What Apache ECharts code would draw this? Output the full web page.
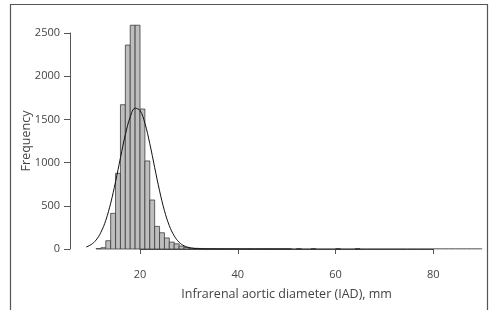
<!DOCTYPE html>
<html>
<head>
<meta charset="utf-8">
<script src="https://cdn.jsdelivr.net/npm/echarts@6/dist/echarts.min.js"></script>
<style>
  html, body { margin: 0; padding: 0; background: #fff; }
  #main { width: 498px; height: 310px; }
</style>
</head>
<body>
<div id="main"></div>
<script>
// histogram: left edge of each 1 mm bin and its count
const binStart = [11, 12, 13, 14, 15, 16, 17, 18, 19, 20, 21, 22, 23, 24, 25, 26, 27, 28, 29, 30,
                  31, 32, 33, 34, 35, 36, 37, 38, 39, 40, 41, 42, 43, 44, 45, 46, 47, 48, 49, 50,
                  52, 55, 60, 64];
const binCount = [5, 15, 96, 413, 876, 1670, 2360, 2590, 2590, 1620, 1019, 567, 262, 188, 128, 80, 60, 34, 18, 10,
                  8, 6, 5, 5, 4, 3, 3, 2, 2, 2, 1, 2, 1, 1, 2, 1, 1, 1, 1, 1,
                  1, 1, 1, 1];
// fitted normal curve
const curveX = [9, 10, 11, 12, 13, 14, 15, 16, 17, 18, 19, 20, 21, 22, 23, 24, 25, 26, 27, 28, 29, 30, 31, 32, 33, 34, 35, 90];
const curveY = [23, 51, 103, 193, 332, 530, 779, 1056, 1322, 1528, 1629, 1603, 1456, 1220, 944, 674, 444, 270, 152, 78, 37, 17, 7, 3, 1, 0, 0, 0];
// axis ticks
const xTickMin = 20, xTickMax = 80, xTickStep = 20;
const yTickMin = 0, yTickMax = 2500, yTickStep = 500;

const FONT = '"Open Sans", "Noto Sans", sans-serif';
const AX = '#555';
const TXT = '#444';

const chart = echarts.init(document.getElementById('main'), null, { renderer: 'canvas' });

const pxPerMm = 4.888;
const pxPerUnit = 0.0864;
const x20 = 140, y0 = 249;

const option = {
  backgroundColor: '#fff',
  animation: false,
  graphic: [{
    type: 'rect',
    shape: { x: 10.5, y: 4.5, width: 477, height: 400 },
    style: { fill: 'none', stroke: '#555', lineWidth: 1.2 },
    silent: true
  }],
  grid: [
    { // data grid
      left: x20 - 12 * pxPerMm,
      right: 498 - (x20 + 72 * pxPerMm),
      top: y0 - 2700 * pxPerUnit,
      bottom: 310 - y0
    },
    { // axis grid (R style, ticks only over the labelled range)
      left: x20,
      right: 498 - (x20 + 60 * pxPerMm),
      top: y0 - 2500 * pxPerUnit,
      bottom: 310 - y0
    }
  ],
  xAxis: [
    { type: 'value', gridIndex: 0, min: 8, max: 92, show: false },
    {
      type: 'value', gridIndex: 1, min: xTickMin, max: xTickMax, interval: xTickStep,
      offset: 10,
      name: 'Infrarenal aortic diameter (IAD), mm',
      nameLocation: 'middle', nameGap: 29, nameMoveOverlap: false,
      nameTextStyle: { color: TXT, fontFamily: FONT, fontSize: 12.5 },
      axisLine: { show: true, lineStyle: { color: AX, width: 1 } },
      axisTick: { show: true, length: 5, lineStyle: { color: AX } },
      axisLabel: { color: TXT, fontFamily: FONT, fontSize: 11, margin: 10, formatter: v => String(v) },
      splitLine: { show: false }
    }
  ],
  yAxis: [
    { type: 'value', gridIndex: 0, min: 0, max: 2700, show: false },
    {
      type: 'value', gridIndex: 1, min: yTickMin, max: yTickMax, interval: yTickStep,
      offset: x20 - 70,
      name: 'Frequency',
      nameLocation: 'middle', nameGap: 37, nameMoveOverlap: false,
      nameTextStyle: { color: TXT, fontFamily: FONT, fontSize: 12.5 },
      axisLine: { show: true, lineStyle: { color: AX, width: 1 } },
      axisTick: { show: true, length: 6, lineStyle: { color: AX } },
      axisLabel: { color: TXT, fontFamily: FONT, fontSize: 11, margin: 10, formatter: v => String(v) },
      splitLine: { show: false }
    }
  ],
  series: [
    {
      type: 'custom',
      xAxisIndex: 0, yAxisIndex: 0,
      data: binStart.map((b, i) => [b, binCount[i]]),
      encode: { x: 0, y: 1 },
      renderItem: function (params, api) {
        const p0 = api.coord([api.value(0), 0]);
        const p1 = api.coord([api.value(0) + 1, api.value(1)]);
        return {
          type: 'rect',
          shape: { x: p0[0], y: p1[1], width: p1[0] - p0[0], height: p0[1] - p1[1] },
          style: { fill: '#bebebe', stroke: '#3c3c3c', lineWidth: 0.8 }
        };
      },
      silent: true
    },
    {
      type: 'line',
      xAxisIndex: 0, yAxisIndex: 0,
      data: curveX.map((x, i) => [x, curveY[i]]),
      smooth: 0.4,
      showSymbol: false,
      lineStyle: { color: '#111', width: 1 },
      silent: true
    }
  ]
};

chart.setOption(option);
</script>
</body>
</html>
